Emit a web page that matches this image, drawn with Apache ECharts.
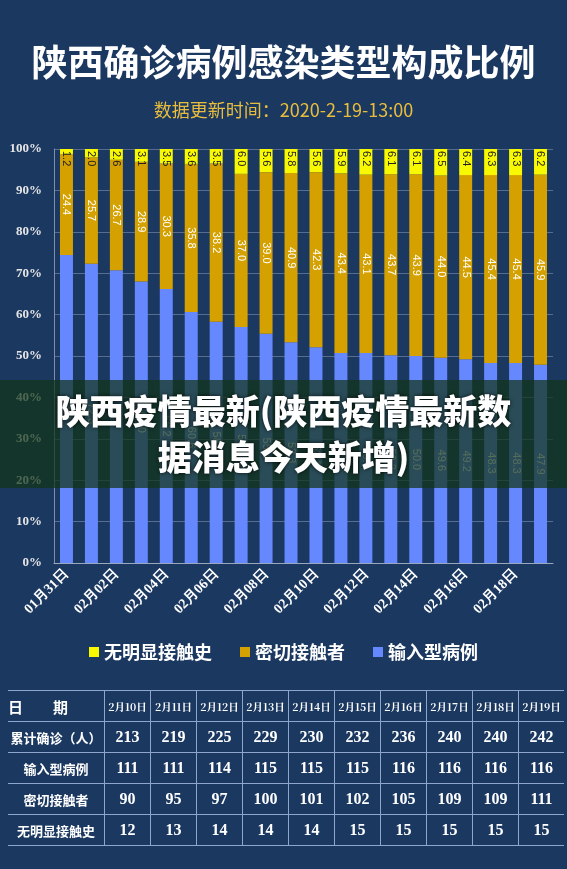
<!DOCTYPE html>
<html>
<head>
<meta charset="utf-8">
<script src="https://cdn.jsdelivr.net/npm/echarts@6/dist/echarts.min.js"></script>
<style>
  body { margin: 0; background: #1b3861; }
  #wrap { position: relative; width: 567px; height: 869px; overflow: hidden; background: #1b3861; }
  #chart { position: absolute; left: 0; top: 0; width: 567px; height: 869px; }
  #band {
    position: absolute; left: 0; top: 380px; width: 567px; height: 108px;
    background: rgba(18, 52, 24, 0.72);
    color: #fff; text-align: center;
    font-family: "Noto Sans CJK SC", sans-serif; font-weight: 900;
    font-size: 34px; line-height: 46px; padding-top: 7px; box-sizing: border-box;
    text-shadow: 0 0 4px rgba(0,0,0,0.8);
  }
  #tbl { position: absolute; left: 8px; top: 690px; border-collapse: collapse; color: #fff; }
  #tbl td {
    height: 30px; padding: 0; text-align: center;
    border-top: 1px solid #8fa6cc; border-bottom: 1px solid #8fa6cc;
    border-left: 1px solid #8fa6cc;
    font-family: "Liberation Serif", "DejaVu Serif", serif; font-weight: bold; font-size: 16px;
  }
  #tbl td.lab {
    width: 96px; border-left: none;
    font-family: "Noto Sans CJK SC", sans-serif; font-size: 13px;
  }
  #tbl td.num { width: 45px; }
  #tbl tr.head td.num { font-size: 10.5px; font-family: "Noto Serif CJK SC", "Liberation Serif", serif; }
  #tbl tr.head td.lab { text-align: left; font-size: 15px; }
</style>
</head>
<body>
<div id="wrap">
  <div id="chart"></div>
  <div id="band">陕西疫情最新(陕西疫情最新数<br>据消息今天新增)</div>
  <table id="tbl"></table>
</div>
<script>
const days = ['01月31日', '02月01日', '02月02日', '02月03日', '02月04日', '02月05日', '02月06日',
  '02月07日', '02月08日', '02月09日', '02月10日', '02月11日', '02月12日', '02月13日',
  '02月14日', '02月15日', '02月16日', '02月17日', '02月18日', '02月19日'];
// 输入型病例 / 密切接触者 / 无明显接触史 (%)
const importedPct = [74.4, 72.3, 70.7, 68.0, 66.2, 60.6, 58.3, 57.0, 55.4, 53.3,
  52.1, 50.7, 50.7, 50.2, 50.0, 49.6, 49.2, 48.3, 48.3, 47.9];
const contactPct = [24.4, 25.7, 26.7, 28.9, 30.3, 35.8, 38.2, 37.0, 39.0, 40.9,
  42.3, 43.4, 43.1, 43.7, 43.9, 44.0, 44.5, 45.4, 45.4, 45.9];
const unknownPct = [1.2, 2.0, 2.6, 3.1, 3.5, 3.6, 3.5, 6.0, 5.6, 5.8,
  5.6, 5.9, 6.2, 6.1, 6.1, 6.5, 6.4, 6.3, 6.3, 6.2];

// table
const tableDates = ['2月10日', '2月11日', '2月12日', '2月13日', '2月14日', '2月15日', '2月16日', '2月17日', '2月18日', '2月19日'];
const totalCases = [213, 219, 225, 229, 230, 232, 236, 240, 240, 242];
const importedCases = [111, 111, 114, 115, 115, 115, 116, 116, 116, 116];
const contactCases = [90, 95, 97, 100, 101, 102, 105, 109, 109, 111];
const unknownCases = [12, 13, 14, 14, 14, 15, 15, 15, 15, 15];

const rows = [
  ['日　　期', tableDates, 'head'],
  ['累计确诊（人）', totalCases, ''],
  ['输入型病例', importedCases, ''],
  ['密切接触者', contactCases, ''],
  ['无明显接触史', unknownCases, '']
];
document.getElementById('tbl').innerHTML = rows.map(r =>
  '<tr class="' + r[2] + '"><td class="lab">' + r[0] + '</td>' +
  r[1].map(v => '<td class="num">' + v + '</td>').join('') + '</tr>').join('');

const serif = '"Liberation Serif", "DejaVu Serif", serif';
const cjk = '"Noto Sans CJK SC", sans-serif';
const fmt = p => Number(p.value).toFixed(1);

const chart = echarts.init(document.getElementById('chart'));
chart.setOption({
  backgroundColor: 'transparent',
  animation: false,
  title: {
    text: '陕西确诊病例感染类型构成比例',
    subtext: '数据更新时间：2020-2-19-13:00',
    left: 'center',
    top: 39,
    itemGap: 21,
    textStyle: { color: '#fff', fontSize: 36, fontWeight: 'bold', fontFamily: cjk },
    subtextStyle: { color: '#e9bd3c', fontSize: 18, fontFamily: cjk }
  },
  legend: {
    data: ['无明显接触史', '密切接触者', '输入型病例'],
    top: 638,
    left: 'center',
    icon: 'rect',
    itemWidth: 10,
    itemHeight: 10,
    itemGap: 28,
    textStyle: { color: '#fff', fontSize: 18, fontWeight: 'bold', fontFamily: cjk }
  },
  grid: { left: 54, right: 14, top: 149, bottom: 306, containLabel: false },
  xAxis: {
    type: 'category',
    data: days,
    axisLine: { lineStyle: { color: '#9aa8bf' } },
    axisTick: { interval: 1, length: 5, lineStyle: { color: '#9aa8bf' } },
    axisLabel: {
      interval: 1, rotate: 45, margin: 9,
      color: '#fff', fontSize: 14, fontWeight: 'bold', fontFamily: serif
    }
  },
  yAxis: {
    type: 'value',
    min: 0, max: 100, interval: 10,
    axisLine: { show: true, lineStyle: { color: '#7f8faa' } },
    axisTick: { show: false },
    splitLine: { lineStyle: { color: 'rgba(200,210,230,0.35)' } },
    axisLabel: {
      formatter: '{value}%', margin: 12,
      color: '#e6e6e6', fontSize: 13, fontWeight: 'bold', fontFamily: serif
    }
  },
  series: [
    {
      name: '输入型病例', type: 'bar', stack: 'all', data: importedPct,
      barWidth: '52%',
      itemStyle: { color: '#6688ff' },
      label: {
        show: true, position: 'inside', rotate: -90, formatter: fmt,
        color: '#fff', fontSize: 11, fontFamily: 'Liberation Sans, Arial, sans-serif'
      }
    },
    {
      name: '密切接触者', type: 'bar', stack: 'all', data: contactPct,
      itemStyle: { color: '#d5a100' },
      label: {
        show: true, position: 'inside', rotate: -90, formatter: fmt,
        color: '#fff', fontSize: 11, fontFamily: 'Liberation Sans, Arial, sans-serif'
      }
    },
    {
      name: '无明显接触史', type: 'bar', stack: 'all', data: unknownPct,
      itemStyle: { color: '#f8f800' },
      label: {
        show: true, position: 'insideTop', distance: 2, rotate: -90, formatter: fmt,
        align: 'left', verticalAlign: 'middle',
        color: '#222', fontSize: 11, fontFamily: 'Liberation Sans, Arial, sans-serif'
      }
    }
  ]
});
</script>
</body>
</html>
